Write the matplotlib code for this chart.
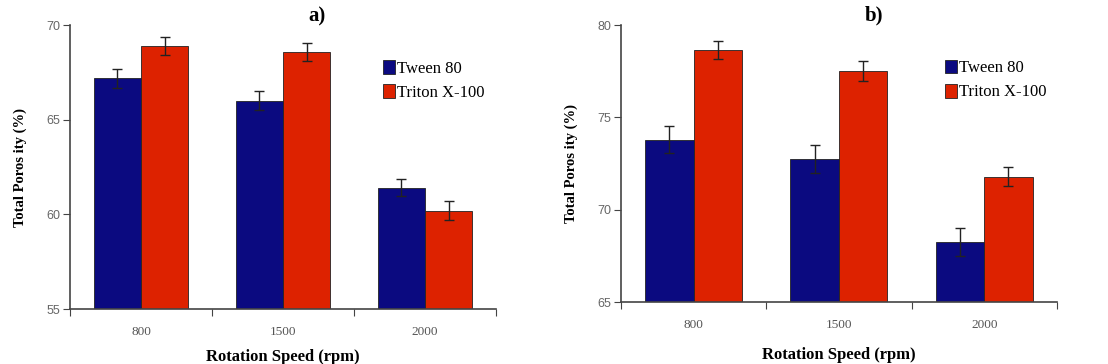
import numpy as np
import matplotlib
matplotlib.use('Agg')
import matplotlib.pyplot as plt

speeds = ['800', '1500', '2000']
series = ['Tween 80', 'Triton X-100']

# panel a
tween_a = [67.2, 66.0, 61.4]
tween_a_err = [0.5, 0.5, 0.45]
triton_a = [68.9, 68.6, 60.2]
triton_a_err = [0.47, 0.47, 0.52]

# panel b
tween_b = [73.8, 72.75, 68.25]
tween_b_err = [0.75, 0.75, 0.75]
triton_b = [78.65, 77.5, 71.8]
triton_b_err = [0.5, 0.55, 0.5]

colors = ['#0b0a80', '#dd2200']
serif = 'Liberation Serif'

fig = plt.figure(figsize=(11.08, 3.64), dpi=100)
ax1 = fig.add_axes([0.0632, 0.151, 0.3845, 0.780])
ax2 = fig.add_axes([0.5604, 0.170, 0.3935, 0.761])

def panel(ax, tw, twe, tr, tre, ylim, yticks, title, legx, xpad):
    x = np.arange(len(speeds))
    w = 1 / 3
    ax.bar(x - w / 2, tw, w, yerr=twe, color=colors[0], edgecolor='#222222', linewidth=0.6,
           error_kw=dict(ecolor='#222222', elinewidth=1, capsize=3.5, capthick=1), label=series[0])
    ax.bar(x + w / 2, tr, w, yerr=tre, color=colors[1], edgecolor='#222222', linewidth=0.6,
           error_kw=dict(ecolor='#222222', elinewidth=1, capsize=3.5, capthick=1), label=series[1])
    ax.set_xlim(-0.5, 2.5)
    ax.set_ylim(*ylim)
    ax.set_yticks(yticks)
    ax.set_yticklabels([str(t) for t in yticks], color='#666666', fontsize=9, family='Liberation Sans')
    ax.set_xticks([-0.5, 0.5, 1.5, 2.5])
    ax.set_xticklabels([])
    ax.set_xticks(x, minor=True)
    ax.set_xticklabels(speeds, minor=True, color='#555555', fontsize=9.5, family=serif)
    ax.tick_params(axis='x', which='minor', length=0, pad=12)
    ax.tick_params(axis='x', which='major', length=5, color='#444444')
    ax.tick_params(axis='y', length=5, color='#444444', pad=2)
    for s in ['top', 'right']:
        ax.spines[s].set_visible(False)
    for s in ['left', 'bottom']:
        ax.spines[s].set_color('#444444')
        ax.spines[s].set_linewidth(1.2)
    ax.set_ylabel('Total Poros ity (%)', family=serif, fontweight='bold', fontsize=10.5, labelpad=14)
    ax.set_xlabel('Rotation Speed (rpm)', family=serif, fontweight='bold', fontsize=12, labelpad=xpad)
    ax.set_title(title, family=serif, fontweight='bold', fontsize=15, x=0.58, y=0.985)
    ax.legend(loc='upper left', bbox_to_anchor=(legx, 0.93), frameon=False, handlelength=0.7,
              handleheight=0.9, handletextpad=0.1, labelspacing=0.45,
              prop={'family': serif, 'size': 12})

panel(ax1, tween_a, tween_a_err, triton_a, triton_a_err, (55, 70), [55, 60, 65, 70], 'a)', 0.70, 8)
panel(ax2, tween_b, tween_b_err, triton_b, triton_b_err, (65, 80), [65, 70, 75, 80], 'b)', 0.71, 12)

fig.savefig('out.png', dpi=100)
